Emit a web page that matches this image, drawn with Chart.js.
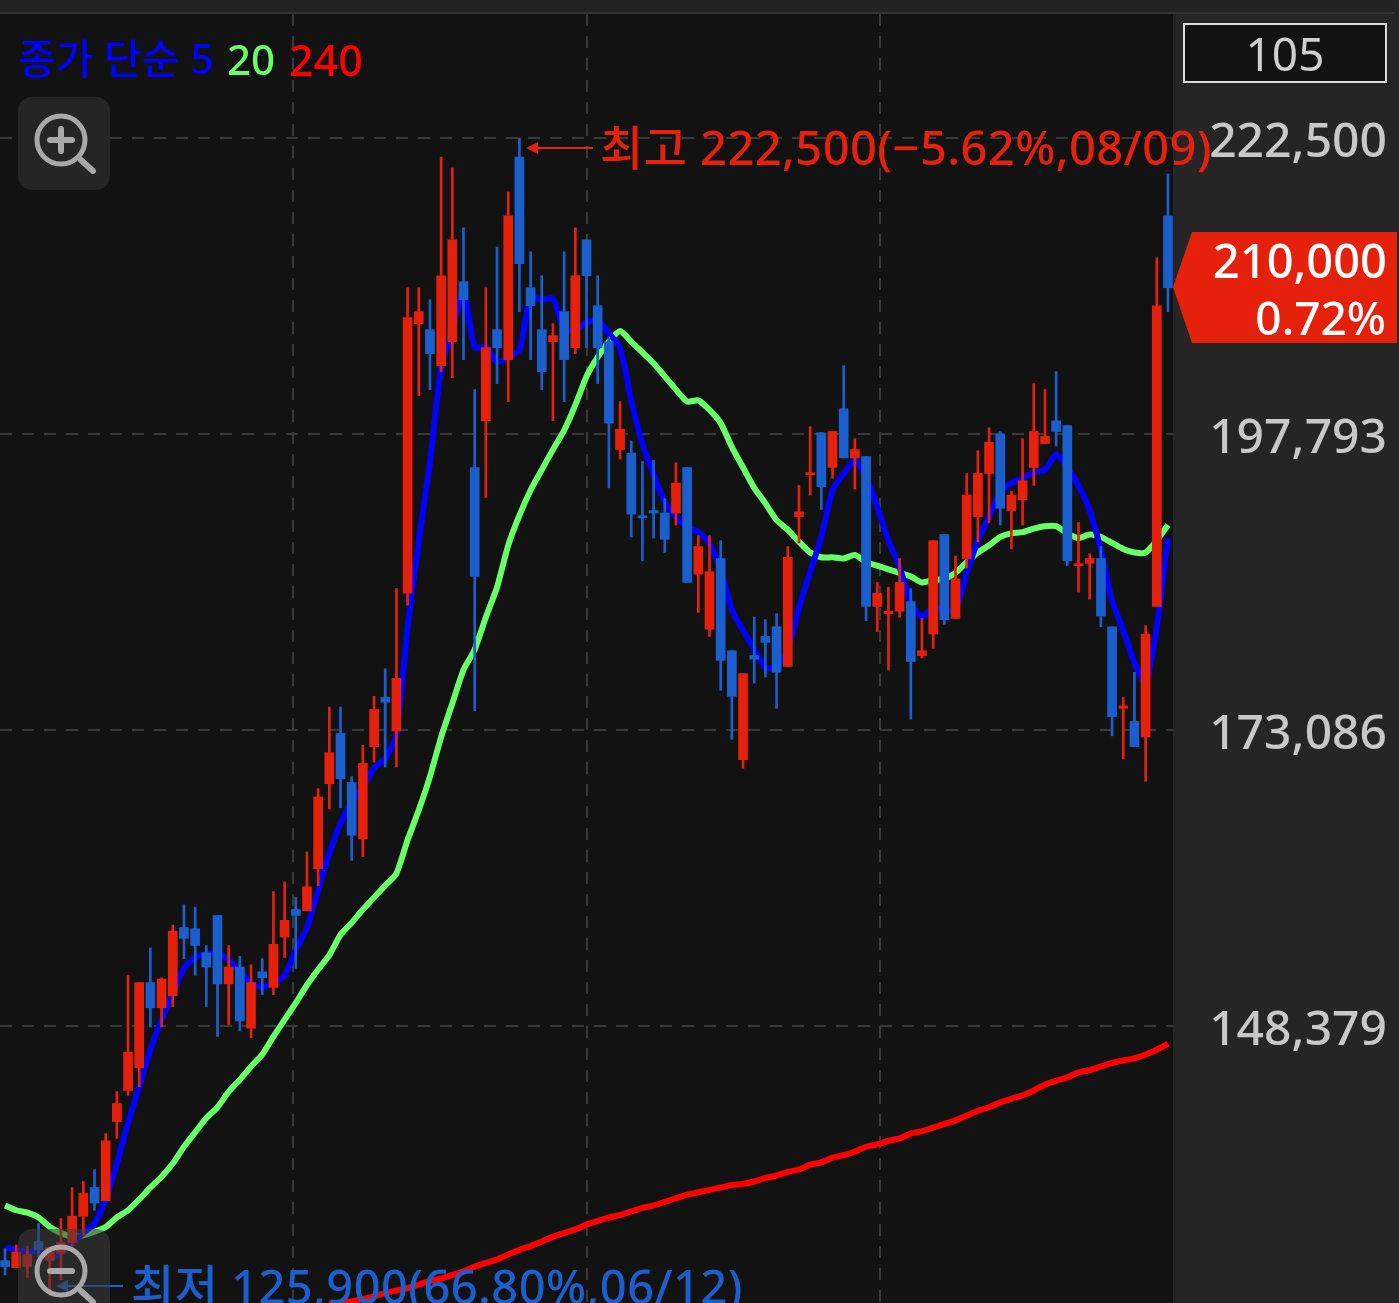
<!DOCTYPE html>
<html lang="ko">
<head>
<meta charset="utf-8">
<title>종가 단순 차트</title>
<script src="https://cdn.jsdelivr.net/npm/chart.js@4/dist/chart.umd.min.js"></script>
<style>
    html, body { margin: 0; padding: 0; background: #252525; }
    #stage { position: relative; width: 1399px; height: 1303px; overflow: hidden; font-family: "Noto Sans", "Noto Sans CJK KR", sans-serif; }
    #chart { position: absolute; left: 0; top: 0; }
    .txt { position: absolute; line-height: 1; white-space: nowrap; }
    .note { font-size: 47px; font-weight: 500; letter-spacing: 0.45px; }
    svg { position: absolute; left: 0; top: 0; pointer-events: none; }
    #countBox { position: absolute; left: 1183px; top: 23px; width: 200px; height: 56px; border: 2px solid #dcdcdc; background: #121212; color: #cfcfcf; font-size: 46px; line-height: 56px; text-align: center; }
    #priceTag { position: absolute; left: 1173px; top: 232px; width: 224px; height: 111px; background: #e5200b; clip-path: polygon(0 55px, 19px 0, 100% 0, 100% 100%, 19px 100%); }
</style>
</head>
<body>
<div id="stage">
    <canvas id="chart" width="1399" height="1303"></canvas>

    <div class="txt" style="left:18px;top:38px;font-size:41px;font-weight:500;color:#0000ff">종가 단순 5</div>
    <div class="txt" style="left:227px;top:38px;font-size:42px;font-weight:500;color:#66ff66">20</div>
    <div class="txt" style="left:289px;top:38px;font-size:43px;font-weight:500;color:#ff0000">240</div>

    <div id="countBox">105</div>

    <div id="priceTag"></div>
    <div class="txt" style="right:12px;top:237px;font-size:47px;font-weight:500;color:#fff">210,000</div>
    <div class="txt" style="right:13px;top:294px;font-size:46px;font-weight:500;color:#fff">0.72%</div>

    <div class="txt note" style="left:600px;top:124px;color:#e5200b">최고 222,500(−5.62%,08/09)</div>
    <div class="txt note" style="left:131px;top:1263px;color:#1b5fcf">최저 125,900(66.80%,06/12)</div>

    <svg width="1399" height="1303">
        <line x1="535" y1="148" x2="593" y2="148" stroke="#e5200b" stroke-width="2"/>
        <polygon points="526,148 538,142 538,154" fill="#e5200b"/>
        <line x1="65" y1="1286" x2="123" y2="1286" stroke="#1b5fcf" stroke-width="2"/>
        <polygon points="56,1286 68,1280 68,1292" fill="#1b5fcf"/>

        <rect x="18" y="97" width="92" height="93" rx="14" fill="#252525"/>
        <circle cx="61" cy="140" r="24" fill="none" stroke="#a8a8a8" stroke-width="5"/>
        <path d="M50 140H72M61 129V151" stroke="#a8a8a8" stroke-width="6" stroke-linecap="round"/>
        <path d="M81 160L93 171" stroke="#a8a8a8" stroke-width="6" stroke-linecap="round"/>

        <rect x="18" y="1229" width="92" height="93" rx="14" fill="#3c3c3c" fill-opacity="0.55"/>
        <circle cx="61" cy="1271" r="24" fill="none" stroke="#a8a8a8" stroke-width="5"/>
        <path d="M50 1271H72" stroke="#a8a8a8" stroke-width="6" stroke-linecap="round"/>
        <path d="M81 1291L93 1302" stroke="#a8a8a8" stroke-width="6" stroke-linecap="round"/>
    </svg>
</div>

<script>
const opens = [
    128800,128200,128300,130400,128800,129400,130300,132500,134900,133800,
    140400,143000,144900,152000,149900,150900,156600,156500,154500,157600,
    151900,153300,148200,152900,151600,155800,158100,158000,161500,168600,
    172800,168700,164000,171700,175800,173000,184500,207000,206500,203500,
    205500,210500,195000,198900,206500,204000,220900,210000,206500,205500,
    208000,205000,214000,208500,205500,196500,196200,190900,191400,191200,
    191200,195000,186100,181500,187400,179700,170600,179300,180900,181700,
    178400,190900,194400,197900,195000,199900,195800,195900,183400,182800,
    183000,183800,179300,181100,189400,182400,187400,190900,194500,197800,
    191400,192300,195000,197000,198900,198500,186800,187000,187400,181700,
    174900,173800,172500,183400,216000
];
const highs = [
    129800,130100,130000,131900,129900,132300,134900,135400,136400,139400,
    142900,152600,152000,154900,152400,156800,158500,158300,155100,157600,
    155100,154200,153500,154000,159600,160400,159100,162900,168200,175000,
    175000,169200,171800,175900,178200,184900,210000,210000,209000,220900,
    220000,215000,201500,210000,213400,218000,222500,213000,211000,207000,
    213000,215000,214000,211000,205900,200500,197200,195500,195600,192400,
    195400,195000,189300,189300,188900,179700,177800,182500,182300,182800,
    188400,193500,198400,197900,198000,203500,197400,195900,185400,185000,
    187400,184900,182400,188900,189400,187600,194500,196400,198300,198000,
    193000,197400,202000,201500,203000,198500,190400,187800,188400,181700,
    175800,177900,181800,212500,219500
];
const lows = [
    127600,128200,127400,129100,125900,127200,129800,130900,133000,133800,
    139000,142600,143300,148300,148300,150000,154000,152600,150000,147500,
    148500,148000,147400,151000,151000,154100,153200,158000,160100,166500,
    166600,162200,162500,170400,170000,170000,183500,201000,201500,203000,
    202500,204000,174700,192500,202000,200500,208000,204000,201500,198900,
    200500,204500,205000,202000,193300,195700,189200,187200,189100,187900,
    190200,185400,182900,180900,176400,172300,169900,177000,177500,174900,
    178400,188700,192700,191500,194100,195800,193200,182200,181300,178100,
    182500,174000,179100,179900,181900,182400,186600,188800,190400,190200,
    188200,190200,193500,197000,196800,186800,184600,184000,181700,172600,
    170700,171700,168800,183400,208000
];
const closes = [
    128300,129500,129300,129700,129900,130300,132500,134400,133600,138800,
    141900,146200,152000,149900,152300,156300,155700,155100,153300,151900,
    153300,148800,152000,152400,155200,157200,157600,160000,167500,171200,
    169000,164300,170300,174800,175400,177400,207500,208000,204500,211000,
    214000,209000,185900,205000,205000,216000,212000,208500,203000,206000,
    204000,211000,211000,205000,198700,198200,191100,190800,191200,189000,
    193700,185400,188400,186300,178900,175900,177800,179000,180400,177900,
    187500,191300,194500,193400,198000,195800,196500,183400,184500,183000,
    185400,178800,179700,188900,182300,185700,192700,194500,197100,191600,
    192700,193900,198000,197600,198000,187200,186900,187400,182600,174200,
    175100,171700,181100,208500,210000
];
const ma5 = [
    129900,129700,129500,129700,129000,129500,130300,131100,131900,133900,
    136900,140300,143300,146400,148900,151100,153200,154100,154400,154400,
    153900,152900,152000,151600,152000,152600,154700,156600,159700,162800,
    165300,167000,168300,169900,170700,172700,181700,188900,195400,203400,
    206400,209800,205000,205100,203800,204200,204800,209200,209000,209100,
    206500,206500,207100,207300,206200,205000,200600,197000,194400,192100,
    190900,190000,189600,188700,186400,183100,181400,179800,178300,178300,
    179800,183300,186300,189200,193100,194500,195600,194200,191700,188900,
    186700,183700,182500,183300,183100,183100,186200,188900,190900,192900,
    193700,194100,194600,194800,196100,195000,193500,191400,188100,183900,
    181400,178700,177000,181700,189100
];
const ma20 = [
    133400,133000,132800,132400,131600,131100,130800,130900,131200,131600,
    132400,133000,133900,134900,135800,136900,138300,139500,140700,141600,
    142900,143900,145000,146000,147500,148900,150300,151800,153100,154300,
    156000,157000,158100,159100,160100,161100,163900,166400,169200,172500,
    175300,178100,179800,182500,185000,188500,191000,193100,194800,196500,
    198100,200200,202600,204200,205500,206400,205500,204600,203700,202600,
    201500,200500,200600,199800,198700,196700,195000,193300,192000,190600,
    189800,188800,187900,187500,187500,187400,187700,187100,186800,186500,
    186200,185900,185400,185600,185700,186200,187100,187900,188500,189200,
    189500,189600,189900,190100,190100,189500,189100,189400,189200,188700,
    188200,187900,187900,188900,190200
];
// 240 line starts below the visible range, first 29 candles have no reading
const ma240 = [
    null,null,null,null,null,null,null,null,null,null,
    null,null,null,null,null,null,null,null,null,null,
    null,null,null,null,null,null,null,null,null,
    125200,
    125300,125400,125600,125800,126100,126300,126500,126800,127100,127300,
    127600,127900,128300,128600,128900,129300,129700,130000,130400,130800,
    131100,131400,131800,132100,132400,132600,132900,133200,133400,133700,
    134000,134300,134500,134700,134900,135100,135200,135400,135700,135900,
    136200,136400,136800,137000,137400,137600,137900,138300,138500,138800,
    139000,139400,139600,139900,140200,140500,140900,141300,141600,142000,
    142300,142600,143000,143500,143800,144100,144500,144700,145000,145300,
    145500,145700,146000,146400,146900
];
const priceTicks = [222500, 197793, 173086, 148379];
const timeGridLines = [25.75, 52, 78.25];

const upColor = "#e5200b";
const downColor = "#1b5fcf";
const candleColors = closes.map((c, i) => (c >= opens[i] ? upColor : downColor));

const toPoints = values => values.map((y, x) => ({ x, y }));

const chartBackground = {
    id: "chartBackground",
    beforeDraw(chart) {
        const { ctx, chartArea } = chart;
        ctx.save();
        ctx.fillStyle = "#232323";
        ctx.fillRect(0, 0, chart.width, chartArea.top);
        ctx.fillStyle = "#333333";
        ctx.fillRect(0, chartArea.top - 2, chart.width - 5, 2);
        ctx.fillStyle = "#121212";
        ctx.fillRect(chartArea.left, chartArea.top, chartArea.width, chartArea.height);
        ctx.restore();
    },
};

new Chart(document.getElementById("chart"), {
    data: {
        datasets: [
            {
                type: "bar",
                label: "body",
                data: opens.map((o, x) => ({ x, y: [Math.min(o, closes[x]), Math.max(o, closes[x])] })),
                backgroundColor: candleColors,
                barThickness: 9,
                minBarLength: 2,
                grouped: false,
                order: 1,
            },
            {
                type: "bar",
                label: "wick",
                data: highs.map((h, x) => ({ x, y: [lows[x], h] })),
                backgroundColor: candleColors,
                barThickness: 2,
                grouped: false,
                order: 2,
            },
            {
                type: "line",
                label: "5",
                data: toPoints(ma5),
                borderColor: "#0000ff",
                borderWidth: 6,
                tension: 0.2,
                pointRadius: 0,
                order: 3,
            },
            {
                type: "line",
                label: "20",
                data: toPoints(ma20),
                borderColor: "#66ff66",
                borderWidth: 6,
                tension: 0.2,
                pointRadius: 0,
                order: 4,
            },
            {
                type: "line",
                label: "240",
                data: toPoints(ma240),
                borderColor: "#ff0000",
                borderWidth: 6,
                tension: 0.2,
                pointRadius: 0,
                order: 5,
            },
        ],
    },
    options: {
        responsive: false,
        animation: false,
        layout: { padding: { top: 14, right: 12 } },
        plugins: {
            legend: { display: false },
            title: { display: false },
            tooltip: { enabled: false },
        },
        scales: {
            x: {
                type: "linear",
                min: -0.45,
                max: 104.45,
                offset: false,
                afterBuildTicks: axis => {
                    axis.ticks = timeGridLines.map(value => ({ value }));
                },
                ticks: { display: false },
                border: { display: false, dash: [12, 10] },
                grid: { color: "#3a3a3a", lineWidth: 2, drawTicks: false, offset: false },
            },
            y: {
                position: "right",
                min: 125257,
                max: 232850,
                afterBuildTicks: axis => {
                    axis.ticks = priceTicks.map(value => ({ value }));
                },
                afterFit: axis => {
                    axis.width = 214;
                    axis.paddingTop = 0;
                    axis.paddingBottom = 0;
                },
                ticks: {
                    color: "#c8c8c8",
                    font: { family: '"Noto Sans", "Noto Sans CJK KR", sans-serif', size: 48, weight: 500 },
                    crossAlign: "far",
                    padding: 15,
                    labelOffset: 5,
                    callback: value => value.toLocaleString("en-US"),
                },
                border: { display: false, dash: [12, 10] },
                grid: { color: "#3a3a3a", lineWidth: 2, drawTicks: false },
            },
        },
    },
    plugins: [chartBackground],
});
</script>
</body>
</html>
